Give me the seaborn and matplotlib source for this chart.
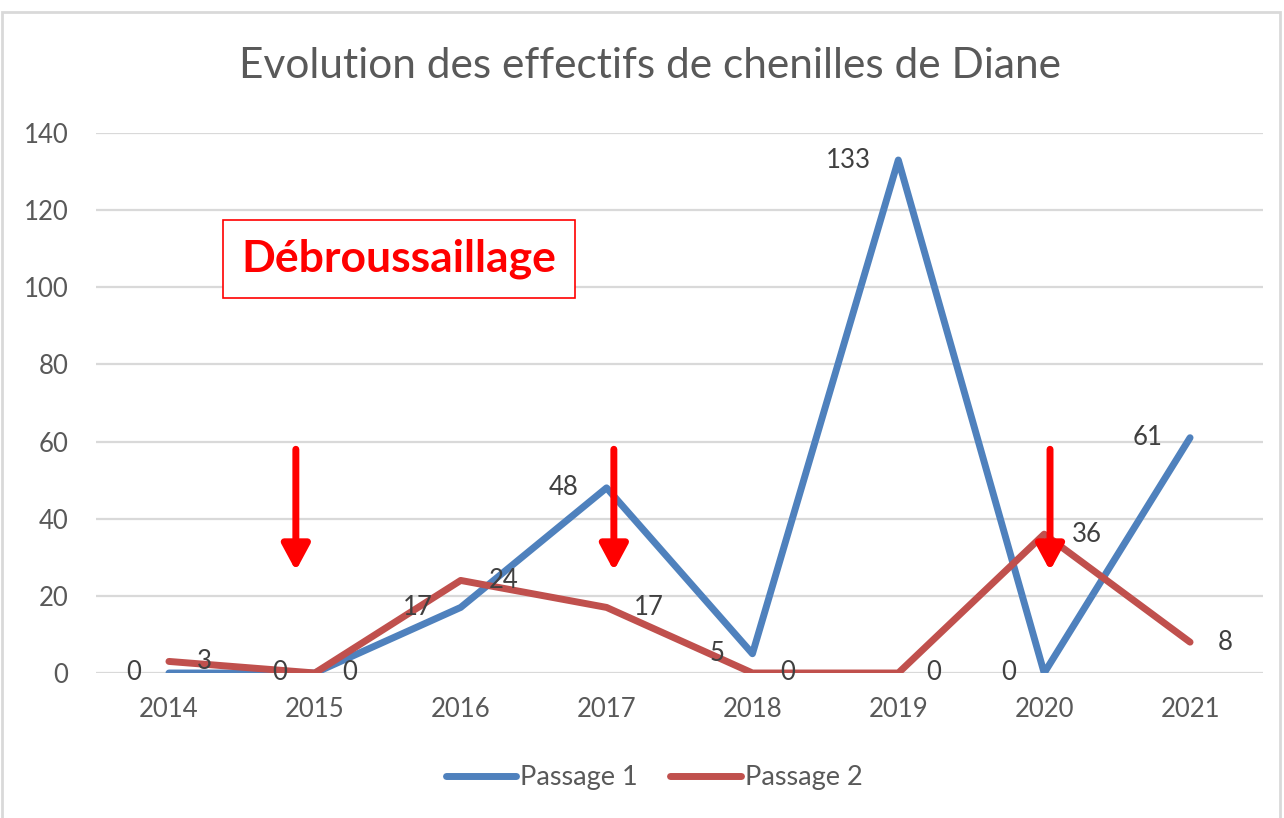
import seaborn as sns
import matplotlib.pyplot as plt
import pandas as pd
from matplotlib.patches import Rectangle

sns.set_theme(style="white")
plt.rcParams['font.family'] = ['Lato', 'DejaVu Sans']

years = [2014, 2015, 2016, 2017, 2018, 2019, 2020, 2021]
passage1 = [0, 0, 17, 48, 5, 133, 0, 61]
passage2 = [3, 0, 24, 17, 0, 0, 36, 8]
series_names = ["Passage 1", "Passage 2"]
colors = ["#4F81BD", "#C0504D"]

# arrows marking brush clearing (x in years, y top -> tip)
arrow_x = [2014.87, 2017.05, 2020.04]
arrow_top = 58
arrow_tip = 26.5

df = pd.DataFrame({
    "year": years * 2,
    "value": passage1 + passage2,
    "serie": [series_names[0]] * len(years) + [series_names[1]] * len(years),
})

fig = plt.figure(figsize=(12.84, 8.18), dpi=100)
ax = fig.add_axes([96 / 1284, 1 - 673 / 818, (1263 - 96) / 1284, (673 - 133) / 818])

sns.lineplot(data=df, x="year", y="value", hue="serie", palette=colors,
             linewidth=5, ax=ax, legend=False, solid_capstyle="round")

ax.set_xlim(2013.5, 2021.5)
ax.set_ylim(0, 140)
ax.set_xticks(years)
ax.set_yticks(range(0, 141, 20))
ax.set_xlabel("")
ax.set_ylabel("")
ax.grid(axis="y", color="#D9D9D9", linewidth=1.6)
ax.set_axisbelow(True)
for s in ax.spines.values():
    s.set_visible(False)
ax.tick_params(axis="both", length=0, labelsize=18.5, labelcolor="#595959")
ax.tick_params(axis="x", pad=17)
ax.tick_params(axis="y", pad=20)

# data labels
for x, v in zip(years, passage1):
    ax.annotate(str(v), (x, v), xytext=(-20, 0), textcoords="offset points",
                ha="right", va="center", fontsize=18.5, color="#404040")
for x, v in zip(years, passage2):
    ax.annotate(str(v), (x, v), xytext=(20, 0), textcoords="offset points",
                ha="left", va="center", fontsize=18.5, color="#404040")

# red arrows
for x in arrow_x:
    ax.annotate("", xy=(x, arrow_tip), xytext=(x, arrow_top),
                arrowprops=dict(arrowstyle="-|>,head_length=1.3,head_width=0.7",
                                color="red", lw=5, shrinkA=0, shrinkB=0))

# text box
fig.text(399 / 1284, 1 - 259 / 818, "Débroussaillage", ha="center", va="center",
         fontsize=32, fontweight="bold", color="red",
         bbox=dict(boxstyle="square,pad=0.42", facecolor="white", edgecolor="red", linewidth=1.2))

fig.text(650 / 1284, 1 - 66 / 818, "Evolution des effectifs de chenilles de Diane",
         ha="center", va="center", fontsize=30.5, color="#595959")

handles = [plt.Line2D([], [], color=c, linewidth=5, solid_capstyle="round") for c in colors]
fig.legend(handles, series_names, loc="center", bbox_to_anchor=(654 / 1284, 1 - 778 / 818),
           ncol=2, frameon=False, fontsize=19.5, handlelength=2.6, handletextpad=0.15,
           columnspacing=1.2, labelcolor="#595959")

fig.patches.append(Rectangle((2 / 1284, -0.01), 1278 / 1284, 1 - 12 / 818 + 0.01,
                             transform=fig.transFigure, fill=False,
                             edgecolor="#D9D9D9", linewidth=2))

fig.savefig("out.png", dpi=100)
